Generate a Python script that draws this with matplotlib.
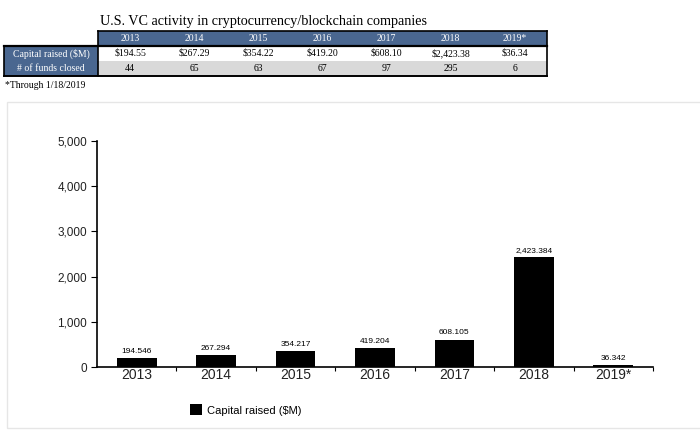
import matplotlib
matplotlib.use("Agg")
from matplotlib import pyplot as plt
from matplotlib.patches import Rectangle
from matplotlib.ticker import FuncFormatter, FixedLocator

years = ["2013", "2014", "2015", "2016", "2017", "2018", "2019*"]
capital = [194.546, 267.294, 354.217, 419.204, 608.105, 2423.384, 36.342]
table_capital = ["$194.55", "$267.29", "$354.22", "$419.20", "$608.10",
                 "$2,423.38", "$36.34"]
funds = [44, 65, 63, 67, 97, 295, 6]
row_labels = ["Capital raised ($M)", "# of funds closed"]
title = "U.S. VC activity in cryptocurrency/blockchain companies"
footnote = "*Through 1/18/2019"

W, H = 700, 430
BLUE = "#4a6790"
GREY = "#d9d9d9"
SERIF = "Liberation Serif"
SANS = "Liberation Sans"

fig = plt.figure(figsize=(W / 100, H / 100), dpi=100)


def fx(x):
    return x / W


def fy(y):
    return 1 - y / H


def box(x0, y0, x1, y1, fc, ec="none", lw=0):
    r = Rectangle((fx(x0), fy(y1)), fx(x1) - fx(x0), fy(y0) - fy(y1),
                  transform=fig.transFigure, facecolor=fc, edgecolor=ec,
                  linewidth=lw)
    fig.add_artist(r)


def line(x0, y0, x1, y1, c="black", lw=1.2):
    fig.add_artist(plt.Line2D([fx(x0), fx(x1)], [fy(y0), fy(y1)],
                              transform=fig.transFigure, color=c, lw=lw))


# ---- table on top ----
fig.text(fx(100), fy(21), title, family=SERIF, fontsize=10.2, va="center")

tx0, tx1 = 98, 547
lab_x0 = 4
ty = [31, 46, 61, 76]
cw = (tx1 - tx0) / len(years)

box(tx0, ty[0], tx1, ty[1], BLUE)
box(lab_x0, ty[1], tx0, ty[3], BLUE)
box(tx0, ty[2], tx1, ty[3], GREY)

for i, yr in enumerate(years):
    cx = tx0 + cw * (i + 0.5)
    fig.text(fx(cx), fy((ty[0] + ty[1]) / 2), yr, family=SERIF, fontsize=7,
             color="white", ha="center", va="center")
    fig.text(fx(cx), fy((ty[1] + ty[2]) / 2), table_capital[i],
             family=SERIF, fontsize=7, ha="center", va="center")
    fig.text(fx(cx), fy((ty[2] + ty[3]) / 2), str(funds[i]),
             family=SERIF, fontsize=7, ha="center", va="center")

for j, lab in enumerate(row_labels):
    fig.text(fx((lab_x0 + tx0) / 2), fy((ty[j + 1] + ty[j + 2]) / 2), lab,
             family=SERIF, fontsize=7, color="white", ha="center",
             va="center")

# borders
line(tx0, ty[0], tx1, ty[0])
line(tx1, ty[0], tx1, ty[3])
line(tx0, ty[0], tx0, ty[3])
line(lab_x0, ty[1], tx1, ty[1], lw=1.6)
line(lab_x0, ty[1], lab_x0, ty[3])
line(lab_x0, ty[3], tx1, ty[3], lw=1.4)

fig.text(fx(5), fy(86), footnote, family=SERIF, fontsize=7, va="center")

# faint chart frame
box(7, 102, 705, 428, "none", ec="#e6e6e6", lw=1)

# ---- bar chart ----
ax = fig.add_axes([fx(97), fy(367), fx(653) - fx(97), fy(141) - fy(367)])
x = list(range(len(years)))
bars = ax.bar(x, capital, width=0.5, color="black", label="Capital raised ($M)")
for xi, v in zip(x, capital):
    ax.text(xi, v + 70, "{:,.3f}".format(v), ha="center", va="bottom",
            family=SANS, fontsize=6)

ax.set_xlim(-0.5, len(years) - 0.5)
ax.set_ylim(0, 5000)
ax.set_yticks(range(0, 5001, 1000))
ax.yaxis.set_major_formatter(FuncFormatter(lambda v, p: "{:,.0f}".format(v)))
ax.set_xticks(x)
ax.set_xticklabels(years)
ax.xaxis.set_minor_locator(FixedLocator([i + 0.5 for i in x]))
ax.tick_params(axis="x", which="major", length=0, pad=1, labelsize=10,
               labelcolor="#222222")
ax.tick_params(axis="x", which="minor", length=3, width=0.8, direction="out")
ax.tick_params(axis="y", length=4, width=0.8, labelsize=8.5, pad=3,
               labelcolor="#222222")
for lab in ax.get_xticklabels() + ax.get_yticklabels():
    lab.set_family(SANS)
for s in ["top", "right"]:
    ax.spines[s].set_visible(False)
for s in ["left", "bottom"]:
    ax.spines[s].set_linewidth(1.2)

fig.legend(handles=[bars], loc="center left", bbox_to_anchor=(fx(180), fy(410)),
           frameon=False, handlelength=1.1, handleheight=1.1, handletextpad=0.4,
           prop={"family": SANS, "size": 8})

fig.savefig("out.png", dpi=100)
